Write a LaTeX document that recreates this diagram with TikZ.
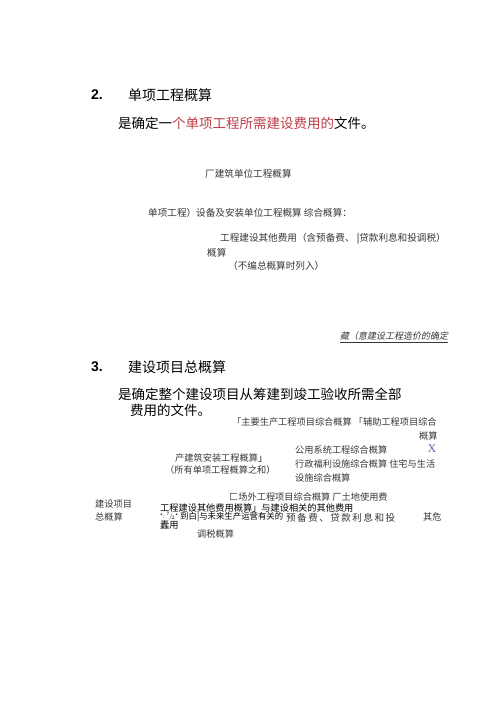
\documentclass[tikz,border=0pt]{standalone}
\usepackage{fontspec}
\setmainfont{Noto Sans CJK SC}
\newfontfamily\latinb{Liberation Sans}
\newfontfamily\cjkit{Noto Sans CJK SC}[FakeSlant=0.2]
\newfontfamily\cjkwide{Noto Sans CJK SC}[LetterSpace=15]
\newfontfamily\serifx{Liberation Serif}
\definecolor{redtxt}{RGB}{190,60,70}
\definecolor{graytxt}{RGB}{55,55,55}
\definecolor{xblue}{RGB}{95,105,170}
\begin{document}
\begin{tikzpicture}[x=1pt,y=-1pt,
  num/.style={anchor=west,inner sep=0pt,font=\latinb\bfseries\fontsize{14}{14}\selectfont},
  head/.style={anchor=west,inner sep=0pt,font=\fontsize{14}{14}\selectfont},
  body/.style={anchor=west,inner sep=0pt,font=\fontsize{13.5}{13.5}\selectfont},
  small/.style={anchor=west,inner sep=0pt,text=graytxt,font=\fontsize{9.6}{9.6}\selectfont},
  smallb/.style={anchor=west,inner sep=0pt,text=graytxt,font=\fontsize{9.2}{9.2}\selectfont},
  ital/.style={anchor=west,inner sep=0pt,text=graytxt,font=\cjkit\fontsize{9}{9}\selectfont}]
\fill[white] (0,0) rectangle (500,707);
\useasboundingbox (0,0) rectangle (500,707);
% section 2
\node[num] (n2) at (91,95) {2.};
\node[head] (h2) at (128,95) {单项工程概算};
\node[body] (b2) at (118,123) {是确定一\textcolor{redtxt}{个单项工程所需建设费用的}文件。};
\node[small] (s1) at (205,174) {厂建筑单位工程概算};
\node[small] (s2) at (148,213) {单项工程）设备及安装单位工程概算 综合概算：};
\node[small] (s3) at (220,239) {工程建设其他费用（含预备费、 \textcolor{black}{|}贷款利息和投调税）};
\node[small] (s4) at (207,253) {概算};
\node[small] (s5) at (228,266) {（不编总概算时列入）};
\node[ital] (it) at (340,336) {藏（意建设工程造价的确定};
\coordinate (ul1) at ([yshift=-1.5pt]it.south west);
\coordinate (ul2) at ([yshift=-1.5pt]it.south east);
\draw[graytxt,line width=0.5pt] (ul1) -- (ul2);
% section 3
\node[num] (n3) at (91,367) {3.};
\node[head] (h3) at (128,367) {建设项目总概算};
\node[body] (b3a) at (118,394) {是确定整个建设项目从筹建到竣工验收所需全部};
\node[body] (b3b) at (130,410) {费用的文件。};
\node[smallb] (t1) at (232,422) {「主要生产工程项目综合概算 「辅助工程项目综合};
\node[smallb] (t2) at (419,436) {概算};
\node[smallb] (t3) at (295,450) {公用系统工程综合概算};
\node[inner sep=0pt,text=xblue,font=\serifx\fontsize{12}{12}\selectfont] (tx) at (432,449) {X};
\node[smallb] (t4) at (175,458) {产建筑安装工程概算\textcolor{black}{」}};
\node[smallb] (t5) at (165,470) {（所有单项工程概算之和）};
\node[smallb] (t6) at (295,464) {行政福利设施综合概算 住宅与生活};
\node[smallb] (t7) at (295,478) {设施综合概算};
\node[smallb] (t8) at (95,504) {建设项目};
\node[smallb] (t9) at (95,517) {总概算};
\node[smallb] (t10) at (229,497) {匚场外工程项目综合概算 厂土地使用费};
\node[smallb,text=black] (t11) at (160,508.5) {工程建设其他费用概算」与建设相关的其他费用};
\node[anchor=west,inner sep=0pt,text=black,font=\fontsize{6}{6}\selectfont] (t12) at (160,516) {*: $^{7}\!/\!_{2}$*};
\node[anchor=west,inner sep=0pt,text=black,font=\fontsize{8.4}{8.4}\selectfont] (t13) at (180,517.5) {到白|与未来生产运营有关的};
\node[anchor=west,inner sep=0pt,text=graytxt,font=\cjkwide\fontsize{9.6}{9.6}\selectfont] (t14) at (286,517.5) {预备费、贷款利息和投};
\node[smallb] (t15) at (423,517.5) {其危};
\node[smallb,text=black] (t16) at (160,525) {蠹用};
\node[smallb] (t17) at (197,534) {调税概算};
\end{tikzpicture}
\end{document}
